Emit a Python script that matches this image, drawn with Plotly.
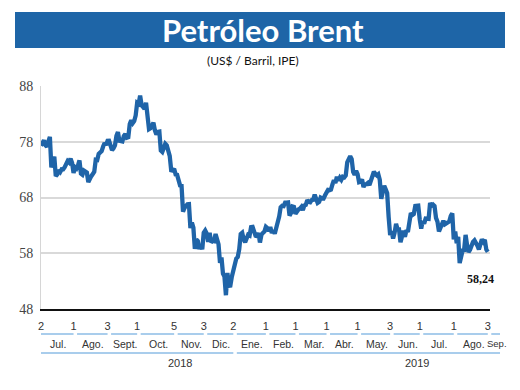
import plotly.graph_objects as go

# ---- data: Brent daily close (US$/barrel), trading days Jul-2018 .. Sep-2019 ----
dates_2018 = [
    "2018-07-02","2018-07-03","2018-07-04","2018-07-05","2018-07-06","2018-07-09","2018-07-10","2018-07-11",
    "2018-07-12","2018-07-13","2018-07-16","2018-07-17","2018-07-18","2018-07-19","2018-07-20","2018-07-23",
    "2018-07-24","2018-07-25","2018-07-26","2018-07-27","2018-07-30","2018-07-31",
    "2018-08-01","2018-08-02","2018-08-03","2018-08-06","2018-08-07","2018-08-08","2018-08-09","2018-08-10",
    "2018-08-13","2018-08-14","2018-08-15","2018-08-16","2018-08-17","2018-08-20","2018-08-21","2018-08-22",
    "2018-08-23","2018-08-24","2018-08-27","2018-08-28","2018-08-29","2018-08-30","2018-08-31",
    "2018-09-03","2018-09-04","2018-09-05","2018-09-06","2018-09-07","2018-09-10","2018-09-11","2018-09-12",
    "2018-09-13","2018-09-14","2018-09-17","2018-09-18","2018-09-19","2018-09-20","2018-09-21","2018-09-24",
    "2018-09-25","2018-09-26","2018-09-27","2018-09-28",
    "2018-10-01","2018-10-02","2018-10-03","2018-10-04","2018-10-05","2018-10-08","2018-10-09","2018-10-10",
    "2018-10-11","2018-10-12","2018-10-15","2018-10-16","2018-10-17","2018-10-18","2018-10-19","2018-10-22",
    "2018-10-23","2018-10-24","2018-10-25","2018-10-26","2018-10-29","2018-10-30","2018-10-31",
    "2018-11-01","2018-11-02","2018-11-05","2018-11-06","2018-11-07","2018-11-08","2018-11-09","2018-11-12",
    "2018-11-13","2018-11-14","2018-11-15","2018-11-16","2018-11-19","2018-11-20","2018-11-21","2018-11-22",
    "2018-11-23","2018-11-26","2018-11-27","2018-11-28","2018-11-29","2018-11-30",
    "2018-12-03","2018-12-04","2018-12-05","2018-12-06","2018-12-07","2018-12-10","2018-12-11","2018-12-12",
    "2018-12-13","2018-12-14","2018-12-17","2018-12-18","2018-12-19","2018-12-20","2018-12-21","2018-12-24",
    "2018-12-26","2018-12-27","2018-12-28","2018-12-31",
]
prices_2018 = [
    77.30, 77.76, 78.24, 77.39, 77.11, 78.07, 78.86, 73.40,
    74.45, 75.33, 71.84, 72.16, 72.90, 72.58, 73.07, 73.06,
    73.44, 73.93, 74.54, 74.29, 74.97, 74.25,
    72.39, 73.45, 73.21, 73.75, 74.65, 72.28, 72.07, 72.81,
    72.61, 72.46, 70.76, 71.43, 71.83, 72.21, 72.63, 74.78,
    74.73, 75.82, 76.21, 76.31, 77.14, 77.77, 77.42,
    78.15, 78.17, 77.27, 76.50, 76.83, 77.37, 79.06, 79.74,
    78.18, 78.09, 78.05, 79.03, 79.40, 78.70, 78.80, 81.20,
    81.87, 81.34, 81.72, 82.72,
    84.98, 84.80, 86.29, 84.58, 84.16, 83.91, 85.00, 83.09,
    80.26, 80.43, 80.78, 81.41, 80.05, 79.29, 79.78, 79.83,
    76.44, 76.17, 76.89, 77.62, 77.34, 76.34, 75.47,
    72.89, 72.83, 73.17, 72.13, 72.07, 70.65, 70.18, 70.12,
    65.47, 66.12, 66.62, 66.76, 66.79, 62.53, 63.48, 62.60,
    58.80, 60.48, 60.21, 58.76, 59.51, 58.71,
    61.69, 62.08, 61.56, 60.06, 61.67, 59.97, 60.20, 60.15,
    61.45, 60.28, 59.61, 56.26, 57.24, 54.35, 53.82, 50.47,
    54.47, 52.16, 52.20, 53.80,
]
dates_2019 = [
    "2019-01-02","2019-01-03","2019-01-04","2019-01-07","2019-01-08","2019-01-09","2019-01-10","2019-01-11",
    "2019-01-14","2019-01-15","2019-01-16","2019-01-17","2019-01-18","2019-01-21","2019-01-22","2019-01-23",
    "2019-01-24","2019-01-25","2019-01-28","2019-01-29","2019-01-30","2019-01-31",
    "2019-02-01","2019-02-04","2019-02-05","2019-02-06","2019-02-07","2019-02-08","2019-02-11","2019-02-12",
    "2019-02-13","2019-02-14","2019-02-15","2019-02-18","2019-02-19","2019-02-20","2019-02-21","2019-02-22",
    "2019-02-25","2019-02-26","2019-02-27","2019-02-28",
    "2019-03-01","2019-03-04","2019-03-05","2019-03-06","2019-03-07","2019-03-08","2019-03-11","2019-03-12",
    "2019-03-13","2019-03-14","2019-03-15","2019-03-18","2019-03-19","2019-03-20","2019-03-21","2019-03-22",
    "2019-03-25","2019-03-26","2019-03-27","2019-03-28","2019-03-29",
    "2019-04-01","2019-04-02","2019-04-03","2019-04-04","2019-04-05","2019-04-08","2019-04-09","2019-04-10",
    "2019-04-11","2019-04-12","2019-04-15","2019-04-16","2019-04-17","2019-04-18","2019-04-22","2019-04-23",
    "2019-04-24","2019-04-25","2019-04-26","2019-04-29","2019-04-30",
    "2019-05-01","2019-05-02","2019-05-03","2019-05-06","2019-05-07","2019-05-08","2019-05-09","2019-05-10",
    "2019-05-13","2019-05-14","2019-05-15","2019-05-16","2019-05-17","2019-05-20","2019-05-21","2019-05-22",
    "2019-05-23","2019-05-24","2019-05-28","2019-05-29","2019-05-30","2019-05-31",
    "2019-06-03","2019-06-04","2019-06-05","2019-06-06","2019-06-07","2019-06-10","2019-06-11","2019-06-12",
    "2019-06-13","2019-06-14","2019-06-17","2019-06-18","2019-06-19","2019-06-20","2019-06-21","2019-06-24",
    "2019-06-25","2019-06-26","2019-06-27","2019-06-28",
    "2019-07-01","2019-07-02","2019-07-03","2019-07-04","2019-07-05","2019-07-08","2019-07-09","2019-07-10",
    "2019-07-11","2019-07-12","2019-07-15","2019-07-16","2019-07-17","2019-07-18","2019-07-19","2019-07-22",
    "2019-07-23","2019-07-24","2019-07-25","2019-07-26","2019-07-29","2019-07-30","2019-07-31",
    "2019-08-01","2019-08-02","2019-08-05","2019-08-06","2019-08-07","2019-08-08","2019-08-09","2019-08-12",
    "2019-08-13","2019-08-14","2019-08-15","2019-08-16","2019-08-19","2019-08-20","2019-08-21","2019-08-22",
    "2019-08-23","2019-08-26","2019-08-27","2019-08-28","2019-08-29","2019-08-30",
    "2019-09-02","2019-09-03",
]
prices_2019 = [
    54.91, 55.95, 57.06, 57.33, 58.72, 61.44, 61.68, 60.48,
    59.99, 60.64, 61.32, 61.18, 62.70, 62.74, 61.50, 61.14,
    61.09, 61.64, 59.93, 61.32, 61.65, 61.89,
    62.75, 62.51, 61.98, 62.69, 61.63, 62.10, 61.51, 62.42,
    63.61, 64.57, 66.25, 66.50, 66.45, 67.08, 67.07, 67.12,
    64.76, 65.21, 66.39, 66.31,
    65.07, 65.67, 65.86, 65.99, 66.30, 65.74, 66.58, 66.67,
    67.55, 67.23, 67.16, 67.54, 67.61, 68.50, 67.86, 67.03,
    67.21, 67.97, 67.83, 67.82, 68.39,
    69.01, 69.37, 69.31, 69.40, 70.34, 71.10, 70.61, 71.73,
    71.02, 71.55, 71.18, 71.72, 71.62, 71.97, 74.30, 74.90,
    75.40, 74.90, 72.60, 72.10, 72.80,
    72.18, 70.75, 70.85, 71.24, 69.88, 70.37, 70.39, 70.62,
    70.23, 71.24, 71.77, 72.62, 72.21, 71.97, 72.18, 71.18,
    67.76, 68.69, 70.11, 69.45, 68.76, 64.49,
    61.28, 61.97, 60.63, 61.67, 63.29, 62.29, 62.29, 59.97,
    61.31, 62.01, 60.94, 62.14, 61.82, 64.45, 65.20, 64.86,
    65.05, 66.49, 66.55, 66.55,
    64.06, 62.40, 63.82, 63.30, 64.23, 64.11, 64.16, 67.01,
    66.52, 66.72, 66.48, 64.35, 63.66, 61.93, 62.47, 63.26,
    63.83, 63.18, 63.39, 63.46, 63.71, 64.72, 65.17,
    60.50, 61.89, 59.81, 60.94, 56.23, 57.38, 58.53, 58.57,
    61.30, 59.48, 58.23, 58.64, 59.74, 60.03, 60.30, 59.92,
    59.34, 58.70, 59.51, 60.49, 60.08, 60.43,
    58.66, 58.24,
]

# x-axis: first trading day labelled in each month
tick_dates = ["2018-07-02", "2018-08-01", "2018-09-03", "2018-10-01", "2018-11-05", "2018-12-03",
              "2019-01-02", "2019-02-01", "2019-03-01", "2019-04-01", "2019-05-01", "2019-06-03",
              "2019-07-01", "2019-08-01", "2019-09-03"]
tick_text = ["2", "1", "3", "1", "5", "3", "2", "1", "1", "1", "1", "3", "1", "1", "3"]
month_labels = ["Jul.", "Ago.", "Sept.", "Oct.", "Nov.", "Dic.", "Ene.", "Feb.", "Mar.",
                "Abr.", "May.", "Jun.", "Jul.", "Ago.", "Sep."]
years = ["2018", "2019"]
y_ticks = [48, 58, 68, 78, 88]
last_label = "58,24"

dates = dates_2018 + dates_2019
prices = prices_2018 + prices_2019

# ---- layout geometry (screen pixels; page body has an 8px margin) ----
OFF = 8
W, H = 520 - OFF, 390 - OFF
ML, MT = 41 - OFF, 86 - OFF
PLOT_R, PLOT_B = 490 - OFF, 309 - OFF
MR, MB = W - PLOT_R, H - PLOT_B
PW, PH = PLOT_R - ML, PLOT_B - MT
x_max = len(dates) - 1 + 1.5          # category range end


def px_x(px):  # screen pixel -> paper x
    return (px - OFF - ML) / PW


def px_y(py):  # screen pixel -> paper y
    return (PLOT_B - (py - OFF)) / PH


def idx_px(i):  # category index -> screen pixel x
    return OFF + ML + i / x_max * PW


BLUE = "#1f64a8"
LIGHT_BLUE = "#8dbde6"
TXT = "#333333"
NARROW = "Liberation Sans Narrow, Arial Narrow, sans-serif"

fig = go.Figure()
fig.add_trace(go.Scatter(x=dates, y=prices, mode="lines",
                         line=dict(color=BLUE, width=4.3), hoverinfo="x+y",
                         cliponaxis=False))

shapes = []
annotations = []

# title banner
shapes.append(dict(type="rect", xref="paper", yref="paper",
                   x0=px_x(15), x1=px_x(505), y0=px_y(48), y1=px_y(12),
                   fillcolor="#1e65a7", line=dict(width=0), layer="below"))
annotations.append(dict(xref="paper", yref="paper", x=px_x(263), y=px_y(30),
                        text="<b>Petróleo Brent</b>", showarrow=False,
                        font=dict(family="Lato, sans-serif", size=31, color="white"),
                        xanchor="center", yanchor="middle"))
annotations.append(dict(xref="paper", yref="paper", x=px_x(253), y=px_y(60),
                        text="(US$ / Barril, IPE)", showarrow=False,
                        font=dict(family="Lato, sans-serif", size=12, color="#111"),
                        xanchor="center", yanchor="middle"))

# month segments below the day numbers
tick_idx = [dates.index(d) for d in tick_dates]
seg = []
for k in range(len(tick_idx)):
    start = OFF + ML if k == 0 else idx_px(tick_idx[k]) + 3.5
    end = idx_px(tick_idx[k + 1]) if k + 1 < len(tick_idx) else 500
    seg.append((start, end))
    shapes.append(dict(type="line", xref="paper", yref="paper",
                       x0=px_x(start), x1=px_x(end), y0=px_y(334), y1=px_y(334),
                       line=dict(color=LIGHT_BLUE, width=1.5)))
    annotations.append(dict(xref="paper", yref="paper", x=px_x((start + end) / 2 + 1),
                            y=px_y(343.5), text=month_labels[k], showarrow=False,
                            font=dict(family=NARROW, size=10.5 if k < len(tick_idx) - 1 else 9.5,
                                      color=TXT),
                            xanchor="center", yanchor="middle"))

# year segments and labels
split = tick_dates.index("2019-01-02")
year_spans = [(seg[0][0], seg[split - 1][1]), (seg[split][0], seg[-1][1])]
year_label_px = [180, 417]
for (s, e), yr, lx in zip(year_spans, years, year_label_px):
    shapes.append(dict(type="line", xref="paper", yref="paper",
                       x0=px_x(s), x1=px_x(e), y0=px_y(353), y1=px_y(353),
                       line=dict(color=LIGHT_BLUE, width=1.5)))
    annotations.append(dict(xref="paper", yref="paper", x=px_x(lx), y=px_y(363),
                            text=yr, showarrow=False,
                            font=dict(family=NARROW, size=11, color=TXT),
                            xanchor="center", yanchor="middle"))

# last value label
annotations.append(dict(x=len(dates) - 1, y=prices[-1], xref="x", yref="y",
                        text="<b>" + last_label + "</b>", showarrow=False,
                        xshift=-7, yshift=-27,
                        font=dict(family="Liberation Serif, serif", size=12, color="#111")))

fig.update_layout(
    width=W, height=H,
    margin=dict(l=ML, r=MR, t=MT, b=MB, pad=0),
    paper_bgcolor="white", plot_bgcolor="white",
    showlegend=False,
    shapes=shapes, annotations=annotations,
    xaxis=dict(type="category", range=[0, x_max],
               tickmode="array", tickvals=tick_dates, ticktext=tick_text,
               tickangle=0,
               ticks="outside", ticklen=6, tickcolor="rgba(0,0,0,0)",
               tickfont=dict(family=NARROW, size=11, color=TXT),
               showgrid=False, zeroline=False,
               showline=True, linecolor="#111", linewidth=2),
    yaxis=dict(range=[48, 88], tickmode="array", tickvals=y_ticks,
               tickfont=dict(family="Liberation Serif, serif", size=14, color="#444"),
               showgrid=True, gridcolor="#d9d9d9", gridwidth=1.5,
               zeroline=False, showline=True, linecolor="#d6d6d6", linewidth=1,
               ticks="", ticklabelstandoff=4),
)

fig.write_html("out.html")
